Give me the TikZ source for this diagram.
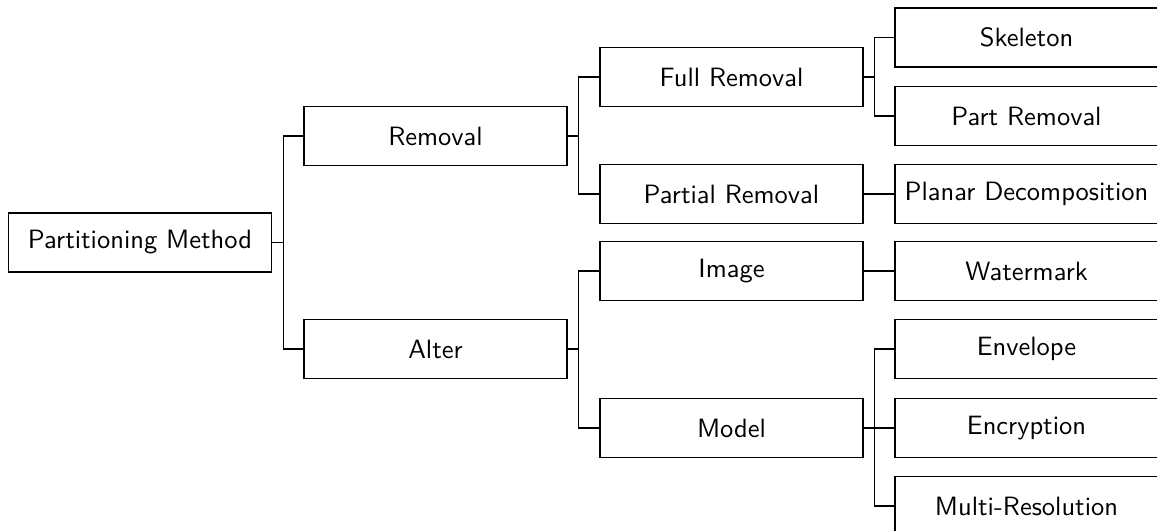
\documentclass[tikz,border=0pt]{standalone}
\usepackage{tikz}
\begin{document}
\begin{tikzpicture}[x=0.4pt,y=-0.4pt,
  box/.style={draw,line width=0.5pt,rectangle,minimum width=105.2pt,minimum height=23.6pt,inner sep=0pt,font=\sffamily\fontsize{10.6}{12.7}\selectfont},
  conn/.style={draw,line width=0.5pt}]
\useasboundingbox (0,0) rectangle (1157,531);
\clip (0,0) rectangle (1157,531);
\node[box] (root) at (140,242.5) {Partitioning Method};
\node[box] (rem) at (435.5,136) {Removal};
\node[box] (alt) at (435.5,349) {Alter};
\node[box] (full) at (731.5,77) {Full Removal};
\node[box] (part) at (731.5,194) {Partial Removal};
\node[box] (img) at (731.5,271) {Image};
\node[box] (mod) at (731.5,428) {Model};
\node[box] (skel) at (1026.5,37.5) {Skeleton};
\node[box] (prem) at (1026.5,116) {Part Removal};
\node[box] (plan) at (1026.5,194) {Planar Decomposition};
\node[box] (wat) at (1026.5,271) {Watermark};
\node[box] (env) at (1026.5,349) {Envelope};
\node[box] (enc) at (1026.5,428) {Encryption};
\node[box] (multi) at (1026.5,506) {Multi-Resolution};
\foreach \p/\c in {root/rem,root/alt}
  \draw[conn] (\p.east) -- ++(11,0) |- (\c.west);
\foreach \p/\c in {rem/full,rem/part,alt/img,alt/mod}
  \draw[conn] (\p.east) -- ++(11,0) |- (\c.west);
\foreach \p/\c in {full/skel,full/prem,part/plan,img/wat,mod/env,mod/enc,mod/multi}
  \draw[conn] (\p.east) -- ++(11,0) |- (\c.west);
\end{tikzpicture}
\end{document}
